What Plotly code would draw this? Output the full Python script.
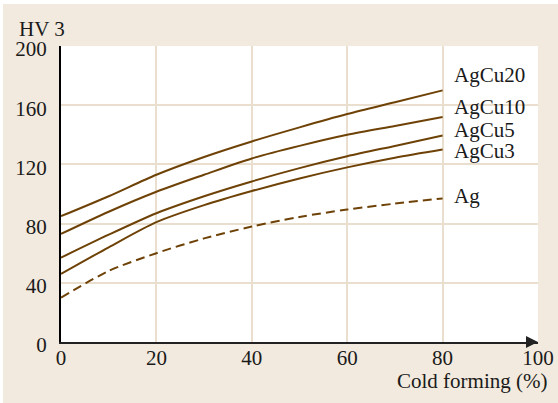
import plotly.graph_objects as go

# Hardness HV 3 versus degree of cold forming for silver and silver-copper alloys
cold_forming = [0, 10, 20, 30, 40, 50, 60, 70, 80]
agcu20 = [85, 98.5, 113, 125, 135.5, 145, 154, 162, 170]
agcu10 = [73, 88, 101.5, 113, 124, 132.5, 140, 146, 152]
agcu5 = [57, 72.5, 87, 98.5, 108.5, 117.5, 125.5, 132.5, 139.5]
agcu3 = [46, 64, 81, 92.5, 102, 110.5, 118, 124.5, 130]
ag = [30, 48, 60, 70, 78, 84.5, 89.5, 93.5, 97]

series = [
    ("AgCu20", agcu20, "solid", 180.5),
    ("AgCu10", agcu10, "solid", 158.5),
    ("AgCu5", agcu5, "solid", 143.5),
    ("AgCu3", agcu3, "solid", 129),
    ("Ag", ag, "9px,5px", 98.5),
]

x_ticks = [0, 20, 40, 60, 80, 100]
y_ticks = [0, 40, 80, 120, 160, 200]

LINE = "#6e4206"
GRID = "#eadfce"
PANEL = "#f2eade"
FONT = "Liberation Serif"
FS = 21

fig = go.Figure()
for name, values, dash, label_y in series:
    fig.add_trace(go.Scatter(
        x=cold_forming, y=values, mode="lines", name=name,
        line=dict(color=LINE, width=2, dash=dash, shape="spline", smoothing=0.8),
        showlegend=False, hoverinfo="skip",
    ))
    fig.add_annotation(x=82, y=label_y, text=name, showarrow=False,
                       xanchor="left", yanchor="middle",
                       font=dict(family=FONT, size=FS, color="#1a1a1a"))

L, R, T, B = 61, 20, 46, 61
W, H = 558, 403
pw, ph = W - L - R, H - T - B

# beige panel behind everything, white plotting area on top of it
fig.add_shape(type="rect", xref="paper", yref="paper", layer="below",
              x0=(3 - L) / pw, x1=(W - L) / pw, y0=-B / ph, y1=(ph + T - 4) / ph,
              fillcolor=PANEL, line=dict(width=0))
fig.add_shape(type="rect", xref="paper", yref="paper", layer="below",
              x0=0, x1=1, y0=0, y1=1, fillcolor="white", line=dict(width=0))

# axis arrowheads
fig.add_annotation(x=0, y=201.5, xref="x", yref="y", ax=0, ay=12, showarrow=True,
                   arrowhead=2, arrowsize=1.2, arrowwidth=2, arrowcolor="black",
                   text="", standoff=0)
fig.add_annotation(x=100, y=0, xref="x", yref="y", ax=-12, ay=0, showarrow=True,
                   arrowhead=2, arrowsize=1.2, arrowwidth=2, arrowcolor="#222222",
                   text="", standoff=0)

fig.add_annotation(x=(17 - L) / pw, y=1.0, xref="paper", yref="paper", text="HV 3",
                   showarrow=False, xanchor="left", yanchor="middle", yshift=17,
                   font=dict(family=FONT, size=FS, color="#1a1a1a"))
fig.add_annotation(x=(549 - L) / pw, y=0, xref="paper", yref="paper", text="Cold forming (%)",
                   showarrow=False, xanchor="right", yanchor="middle", yshift=-39,
                   font=dict(family=FONT, size=FS, color="#1a1a1a"))

fig.update_xaxes(range=[0, 100], tickvals=x_ticks, ticktext=[str(v) for v in x_ticks],
                 showgrid=True, gridcolor=GRID, gridwidth=2, zeroline=False,
                 showline=True, linecolor="#222222", linewidth=2, automargin=False,
                 ticks="", ticklabelstandoff=-4,
                 tickfont=dict(family=FONT, size=FS, color="#1a1a1a"), fixedrange=True)
fig.update_yaxes(range=[0, 200], tickvals=y_ticks, ticktext=[str(v) for v in y_ticks],
                 showgrid=True, gridcolor=GRID, gridwidth=2, zeroline=False,
                 showline=True, linecolor="black", linewidth=2, automargin=False,
                 ticks="outside", ticklen=8, tickcolor="rgba(0,0,0,0)", ticklabelshift=3,
                 tickfont=dict(family=FONT, size=FS, color="#1a1a1a"), fixedrange=True)

fig.update_layout(width=W, height=H, margin=dict(l=L, r=R, t=T, b=B),
                  paper_bgcolor="white", plot_bgcolor="white")

fig.write_html("out.html")
